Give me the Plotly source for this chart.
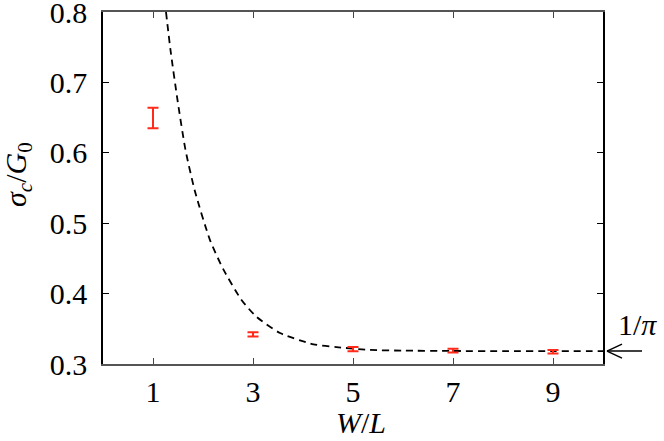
import plotly.graph_objects as go

# Simulation points (W/L, sigma_c/G0, error)
w_sim = [1, 3, 5, 7, 9]
sigma_sim = [0.6495, 0.342, 0.321, 0.319, 0.3175]
sigma_err = [0.0145, 0.003, 0.003, 0.0025, 0.0025]

# Dashed theoretical curve
w_curve = [1.26, 1.35, 1.49, 1.65, 1.84, 2.14, 2.41, 2.77, 3.07, 3.54, 4.21, 4.67, 5.34, 6.0, 7.0, 8.0, 9.0, 10.0]
sigma_curve = [0.800, 0.746, 0.675, 0.604, 0.545, 0.476, 0.434, 0.391, 0.367, 0.344, 0.328, 0.324, 0.320, 0.319, 0.3185, 0.3183, 0.3183, 0.3183]

x_ticks = [1, 3, 5, 7, 9]
y_ticks = [0.3, 0.4, 0.5, 0.6, 0.7, 0.8]
limit_value = 0.3183  # 1/pi

FONT = "Liberation Serif"
FS = 30
RED = "#ff2a1a"

fig = go.Figure()
fig.add_trace(go.Scatter(
    x=w_curve, y=sigma_curve, mode="lines",
    line=dict(color="black", width=1.8, dash="7px,5px", shape="spline", smoothing=0.6),
    hoverinfo="skip", showlegend=False, cliponaxis=True,
))
fig.add_trace(go.Scatter(
    x=w_sim, y=sigma_sim, mode="markers",
    marker=dict(size=1, color="rgba(0,0,0,0)"),
    error_y=dict(type="data", array=sigma_err, visible=True, color=RED, thickness=2, width=5.5),
    showlegend=False,
))

fig.update_layout(
    width=664, height=441,
    margin=dict(l=103, r=61, t=12, b=77),
    plot_bgcolor="white", paper_bgcolor="white",
    font=dict(family=FONT, size=FS, color="black"),
    xaxis=dict(
        range=[0, 10], tickvals=x_ticks, ticktext=[str(v) for v in x_ticks],
        ticks="inside", ticklen=6, tickwidth=1, tickcolor="#444",
        showline=True, linecolor="#555", linewidth=1.5, mirror="ticks",
        showgrid=False, zeroline=False, ticklabelstandoff=0, automargin=False,
        ticklabeloverflow="allow", tickfont=dict(family=FONT, size=FS),
    ),
    yaxis=dict(
        range=[0.3, 0.8], tickvals=y_ticks, ticktext=[f"{v:.1f}" for v in y_ticks],
        ticks="inside", ticklen=6, tickwidth=1, tickcolor="black",
        showline=True, linecolor="black", linewidth=1.5, mirror="ticks",
        showgrid=False, zeroline=False, ticklabelstandoff=8, automargin=False,
        ticklabeloverflow="allow", tickfont=dict(family=FONT, size=FS),
    ),
    annotations=[
        dict(text="<i>W</i>/<i>L</i>", x=5.15, xref="x", y=-0.165, yref="paper",
             xanchor="center", yanchor="middle", showarrow=False,
             font=dict(family=FONT, size=FS)),
        dict(text="<i>σ</i><sub><i>c</i></sub>/<i>G</i><sub>0</sub>", x=-0.17, xref="paper",
             y=0.537, yref="paper", textangle=-90, xanchor="center", yanchor="middle",
             showarrow=False, font=dict(family=FONT, size=FS)),
        dict(text="1/<i>π</i>", x=1.068, xref="paper", y=limit_value + 0.0385, yref="y",
             xanchor="center", yanchor="middle", showarrow=False,
             font=dict(family=FONT, size=FS)),
    ],
    shapes=[
        dict(type="line", xref="paper", yref="y", x0=1.008, x1=1.078,
             y0=limit_value, y1=limit_value, line=dict(color="black", width=1.5)),
        dict(type="line", xref="paper", yref="y", x0=1.008, x1=1.038,
             y0=limit_value, y1=limit_value + 0.0099, line=dict(color="black", width=1.5)),
        dict(type="line", xref="paper", yref="y", x0=1.008, x1=1.038,
             y0=limit_value, y1=limit_value - 0.0099, line=dict(color="black", width=1.5)),
    ],
)

fig.write_html("out.html", config={"displayModeBar": False},
               post_script="document.body.style.margin='0';document.body.style.overflow='hidden';")
